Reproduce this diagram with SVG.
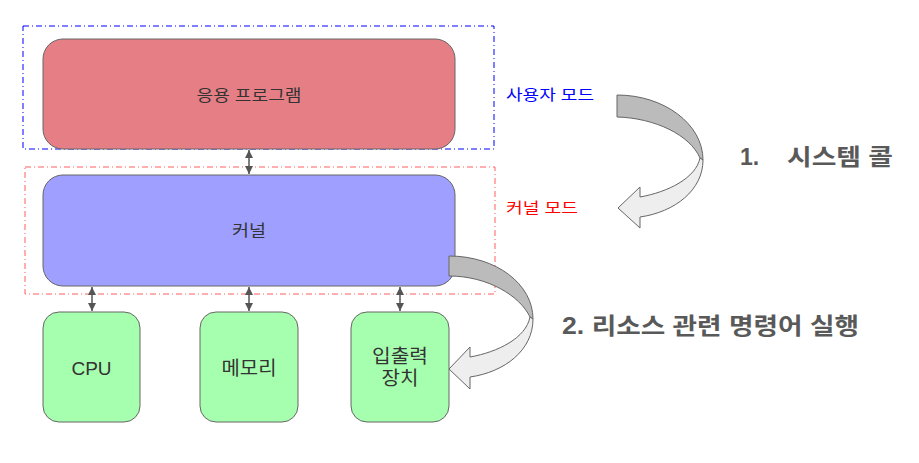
<svg xmlns="http://www.w3.org/2000/svg" width="919" height="463" viewBox="0 0 919 463">
<style>
.node{stroke:#666;stroke-width:1}
.lbl{font-family:"Liberation Sans","Noto Sans CJK KR",sans-serif;fill:#333;text-anchor:middle}
.mode{font-family:"Liberation Sans","Noto Sans CJK KR",sans-serif;font-size:15px}
.big{font-family:"Liberation Sans","Noto Sans CJK KR",sans-serif;font-size:23px;font-weight:bold;fill:#595959}
.conn{stroke:#555;stroke-width:1.5;fill:none;marker-start:url(#ah);marker-end:url(#ah)}
.curve{stroke:#666;stroke-width:1}
</style>
<defs>
<marker id="ah" markerUnits="userSpaceOnUse" markerWidth="10" markerHeight="10" viewBox="0 0 10 10" refX="9" refY="5" orient="auto-start-reverse">
<path d="M1,1 L9,5 L1,9 Z" fill="#555"/>
</marker>
</defs>
<rect width="919" height="463" fill="#fff"/>
<g id="user-mode-region">
<rect x="23" y="26" width="471" height="123" fill="none" stroke="#0000ff" stroke-width="1" stroke-dasharray="6 3 1 3"/>
<text class="mode" x="506" y="100" fill="#0000ff" textLength="88" lengthAdjust="spacingAndGlyphs">사용자 모드</text>
</g>
<g id="kernel-mode-region">
<rect x="25" y="167" width="470" height="127" fill="none" stroke="#ff5f5f" stroke-width="1" stroke-dasharray="6 3 1 3"/>
<text class="mode" x="506" y="213" fill="#ff0000" textLength="72" lengthAdjust="spacingAndGlyphs">커널 모드</text>
</g>
<g id="app">
<rect class="node" x="43" y="39" width="412" height="110" rx="20" fill="#e67e85"/>
<text class="lbl" x="249" y="101" font-size="16" textLength="105" lengthAdjust="spacingAndGlyphs">응용 프로그램</text>
</g>
<g id="kernel">
<rect class="node" x="43" y="175" width="412" height="111" rx="20" fill="#9f9fff"/>
<text class="lbl" x="249" y="236" font-size="16" textLength="34" lengthAdjust="spacingAndGlyphs">커널</text>
</g>
<g id="cpu">
<rect class="node" x="43" y="312" width="97" height="110" rx="16" fill="#a6ffae"/>
<text class="lbl" x="91.5" y="375" font-size="19">CPU</text>
</g>
<g id="memory">
<rect class="node" x="200" y="312" width="98" height="110" rx="16" fill="#a6ffae"/>
<text class="lbl" x="249" y="374.5" font-size="19" textLength="55" lengthAdjust="spacingAndGlyphs">메모리</text>
</g>
<g id="io">
<rect class="node" x="351" y="312" width="98" height="110" rx="16" fill="#a6ffae"/>
<text class="lbl" x="400" y="363" font-size="19" textLength="56" lengthAdjust="spacingAndGlyphs">입출력</text>
<text class="lbl" x="400" y="385" font-size="19" textLength="37" lengthAdjust="spacingAndGlyphs">장치</text>
</g>
<g id="connectors">
<line class="conn" x1="249" y1="150" x2="249" y2="174"/>
<line class="conn" x1="92" y1="287" x2="92" y2="311"/>
<line class="conn" x1="249" y1="287" x2="249" y2="311"/>
<line class="conn" x1="400" y1="287" x2="400" y2="311"/>
</g>
<g id="system-call-arrow">
<path class="curve" fill="#bbbbbb" d="M617,95 C664,95 703,124 703,160 L700,158 C690,135 655,118 617,117 Z"/>
<path class="curve" fill="#eeeeee" d="M703,160 C703,190 675,212 640,217 L640,228 L618,208 L640,187 L640,197 C668,192 696,178 700,158 Z"/>
</g>
<g id="resource-arrow">
<path class="curve" fill="#bbbbbb" d="M449,256 C496,256 533,284 533,319 L530,317 C520,296 488,276 449,276 Z"/>
<path class="curve" fill="#eeeeee" d="M533,319 C533,350 505,372 470,377 L470,389 L449,369 L470,347 L470,357 C498,352 526,338 530,317 Z"/>
</g>
<text class="big" x="740" y="165">1.</text>
<text class="big" x="787" y="165" textLength="106" lengthAdjust="spacingAndGlyphs">시스템 콜</text>
<text class="big" x="562" y="334" textLength="297" lengthAdjust="spacingAndGlyphs">2. 리소스 관련 명령어 실행</text>
</svg>
